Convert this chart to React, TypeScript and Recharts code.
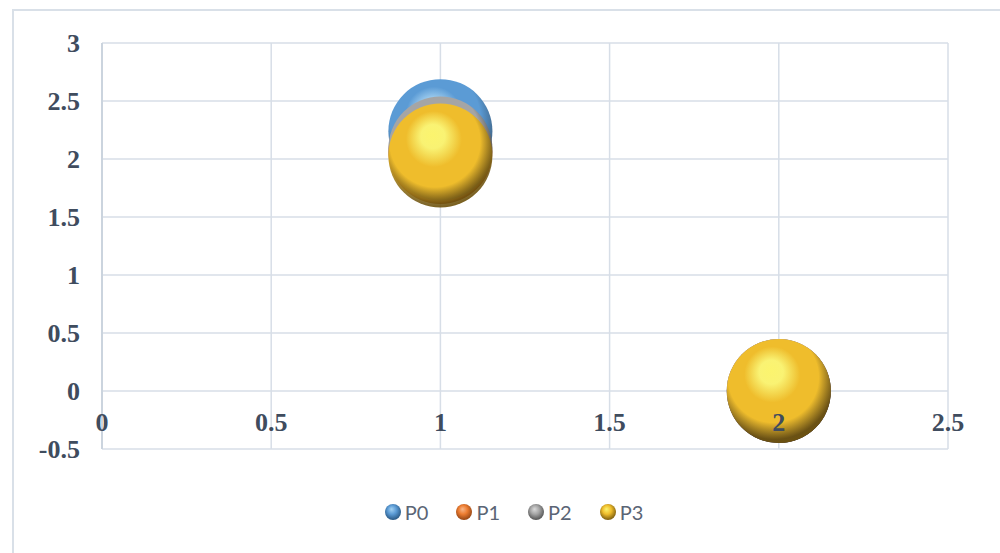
import { ScatterChart, Scatter, XAxis, YAxis, ZAxis, CartesianGrid, Legend } from "recharts";

// series names and values
const SERIES_NAMES = ["P0", "P1", "P2", "P3"];
const X_VALUES = [1, 2];
const P0_Y = [2.24, 0];
const P1_Y = [2.06, 0];
const P2_Y = [2.09, 0];
const P3_Y = [2.03, 0];
const BUBBLE_SIZES = [1, 1];

const X_TICKS = [0, 0.5, 1, 1.5, 2, 2.5];
const Y_TICKS = [-0.5, 0, 0.5, 1, 1.5, 2, 2.5, 3];

// light / base / dark shade for the 3d ball look
const PALETTES = [
  ["#a4d2f2", "#5b9bd5", "#23507a"],
  ["#f7b68a", "#ed7d31", "#8a3e10"],
  ["#dadada", "#a5a5a5", "#4a4a4a"],
  ["#fbf46e", "#efbd2c", "#6e520c"],
];

const SERIES_Y = [P0_Y, P1_Y, P2_Y, P3_Y];

const series = SERIES_NAMES.map((name, i) => ({
  name,
  palette: PALETTES[i],
  data: X_VALUES.map((x, j) => ({ x, y: SERIES_Y[i][j], z: BUBBLE_SIZES[j] })),
}));

const AXIS_TEXT = "#3f4c5e";
const GRID = "#d7dee7";

function Bubble(props: any) {
  const { cx, cy, width, palette, gid } = props;
  if (cx == null || cy == null) return null;
  const r = (width || 104) / 2;
  const id = `${gid}-${Math.round(cx)}-${Math.round(cy)}`;
  const [light, base, dark] = palette;
  return (
    <g>
      <defs>
        <radialGradient id={id} cx="46%" cy="40%" r="64%" fx="42%" fy="30%">
          <stop offset="0%" stopColor={light} />
          <stop offset="18%" stopColor={light} stopOpacity={0.95} />
          <stop offset="42%" stopColor={base} />
          <stop offset="68%" stopColor={base} />
          <stop offset="90%" stopColor={dark} stopOpacity={0.85} />
          <stop offset="100%" stopColor={dark} />
        </radialGradient>
      </defs>
      <circle cx={cx} cy={cy} r={r} fill={`url(#${id})`} />
    </g>
  );
}

function XTick(props: any) {
  const { x, y, payload } = props;
  return (
    <text
      x={x}
      y={y - 27}
      textAnchor="middle"
      dominantBaseline="central"
      fill={AXIS_TEXT}
      fontSize={26}
      fontWeight="bold"
      fontFamily="'Liberation Serif', serif"
    >
      {payload.value}
    </text>
  );
}

function LegendContent() {
  return (
    <div style={{ display: "flex", justifyContent: "center", alignItems: "center", marginLeft: 94, marginTop: 21 }}>
      {series.map((s) => (
        <div key={s.name} style={{ display: "flex", alignItems: "center", marginRight: 27 }}>
          <svg width={18} height={18}>
            <defs>
              <radialGradient id={`lg-${s.name}`} cx="48%" cy="42%" r="62%" fx="40%" fy="32%">
                <stop offset="0%" stopColor={s.palette[0]} />
                <stop offset="45%" stopColor={s.palette[1]} />
                <stop offset="100%" stopColor={s.palette[2]} />
              </radialGradient>
            </defs>
            <circle cx={9} cy={9} r={8} fill={`url(#lg-${s.name})`} />
          </svg>
          <span style={{ marginLeft: 3, fontFamily: "Lato, sans-serif", fontSize: 20, color: "#5b6575" }}>{s.name}</span>
        </div>
      ))}
    </div>
  );
}

export default function App() {
  return (
    <div style={{ position: "absolute", left: 0, top: 0, width: 1000, height: 553, background: "#fff" }}>
      <div
        style={{
          position: "absolute",
          left: 12,
          top: 9,
          right: 0,
          bottom: 0,
          borderTop: "2px solid #d9e0e8",
          borderLeft: "2px solid #d9e0e8",
        }}
      />
      <ScatterChart width={1000} height={553} margin={{ top: 43, right: 52, bottom: 14, left: 12 }}>
        <CartesianGrid stroke={GRID} strokeWidth={1.5} />
        <XAxis
          type="number"
          dataKey="x"
          domain={[0, 2.5]}
          ticks={X_TICKS}
          axisLine={false}
          tickLine={false}
          tickSize={0}
          tickMargin={0}
          height={30}
          tick={<XTick />}
          interval={0}
        />
        <YAxis
          type="number"
          dataKey="y"
          domain={[-0.5, 3]}
          ticks={Y_TICKS}
          width={90}
          axisLine={{ stroke: "#cbd4de", strokeWidth: 2 }}
          tickLine={false}
          tickSize={0}
          tickMargin={22}
          interval={0}
          tick={{ fill: AXIS_TEXT, fontSize: 26, fontWeight: "bold", fontFamily: "'Liberation Serif', serif" }}
        />
        <ZAxis type="number" dataKey="z" range={[8500, 8500]} />
        {series.map((s) => (
          <Scatter
            key={s.name}
            name={s.name}
            data={s.data}
            fill={s.palette[1]}
            isAnimationActive={false}
            shape={(p: any) => <Bubble {...p} palette={s.palette} gid={s.name} />}
          />
        ))}
        <Legend verticalAlign="bottom" height={60} content={<LegendContent />} />
      </ScatterChart>
    </div>
  );
}
